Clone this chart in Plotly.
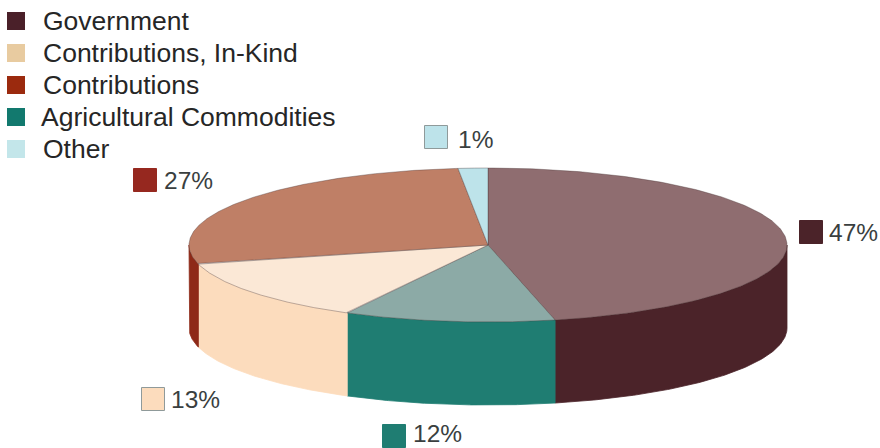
import numpy as np
import plotly.graph_objects as go

# Data, clockwise from 12 o'clock
categories = ["Government", "Agricultural Commodities", "Contributions, In-Kind", "Contributions", "Other"]
printed_labels = ["47%", "12%", "13%", "27%", "1%"]
drawn_shares = [46.4, 11.4, 13.2, 27.4, 1.6]  # slice sizes as drawn in the picture

legend_order = ["Government", "Contributions, In-Kind", "Contributions", "Agricultural Commodities", "Other"]

# Styles
top_colors = ["#8f6d70", "#8caaa6", "#fbe8d6", "#bf7f66", "#bde3ea"]
side_colors = ["#4b2329", "#1f7d72", "#fcdcbd", "#8e2a18", "#bde3ea"]
legend_colors = {"Government": "#4a2029", "Contributions, In-Kind": "#e8cba0", "Contributions": "#9b2a0e",
                 "Agricultural Commodities": "#12796e", "Other": "#c3e6ea"}
label_swatch_colors = ["#4b2329", "#1f7d72", "#fcdcbd", "#96281f", "#bde3ea"]
label_swatch_xy = [(811, 232), (394, 436), (153, 399), (145, 180), (436, 137)]
label_text_xy = [(829, 232), (413, 433.5), (171, 399), (164, 180), (458, 139)]

CX, CY, RX, RY, DEPTH = 488, 245, 299, 77, 83


def rim(t):
    return CX + RX * np.sin(t), CY - RY * np.cos(t)


fig = go.Figure()


def poly(xs, ys, fill, line=None, width=0.8):
    fig.add_trace(go.Scatter(x=xs, y=ys, mode="lines", fill="toself", fillcolor=fill,
                             line=dict(color=line or fill, width=width),
                             hoverinfo="skip", showlegend=False))


edges = np.radians(np.concatenate([[0], np.cumsum(drawn_shares)]) * 3.6)

# Side walls (front half of the disc only)
for i, col in enumerate(side_colors):
    a, b = max(edges[i], np.pi / 2), min(edges[i + 1], 3 * np.pi / 2)
    if a >= b:
        continue
    t = np.linspace(a, b, 120)
    x, y = rim(t)
    poly(np.r_[x, x[::-1], x[0]], np.r_[y, y[::-1] + DEPTH, y[0]], col)

# Top faces
for i, col in enumerate(top_colors):
    t = np.linspace(edges[i], edges[i + 1], 200)
    x, y = rim(t)
    poly(np.r_[CX, x, CX], np.r_[CY, y, CY], col, line="rgba(70,50,50,0.45)", width=0.8)

# Legend
for i, name in enumerate(legend_order):
    yy = 21 + 32 * i
    fig.add_trace(go.Scatter(x=[16], y=[yy], mode="markers", hoverinfo="skip", showlegend=False,
                             marker=dict(symbol="square", size=18, color=legend_colors[name])))
    fig.add_annotation(x=41 if name.startswith("Agri") else 43, y=yy - 0.5, text=name, showarrow=False,
                       xanchor="left", yanchor="middle", xshift=-2,
                       font=dict(family="Liberation Sans", size=26.5, color="#262626"))

# Percentage labels
for lab, col, (sx, sy), (tx, ty) in zip(printed_labels, label_swatch_colors, label_swatch_xy, label_text_xy):
    fig.add_trace(go.Scatter(x=[sx], y=[sy], mode="markers", hoverinfo="skip", showlegend=False,
                             marker=dict(symbol="square", size=23, color=col,
                                         line=dict(color="#8f9a9a" if col in ("#fcdcbd", "#bde3ea") else col, width=1))))
    fig.add_annotation(x=tx, y=ty, text=lab, showarrow=False, xanchor="left", yanchor="middle", xshift=-2,
                       font=dict(family="Liberation Sans", size=24.5, color="#3a3f3f"))

fig.update_layout(width=880, height=448, margin=dict(l=0, r=0, t=0, b=0),
                  paper_bgcolor="white", plot_bgcolor="white", showlegend=False,
                  xaxis=dict(range=[0, 880], visible=False, fixedrange=True),
                  yaxis=dict(range=[448, 0], visible=False, fixedrange=True))
fig.write_html("out.html", config={"displayModeBar": False},
               post_script="document.body.style.margin='0';document.documentElement.style.overflow='hidden';")
